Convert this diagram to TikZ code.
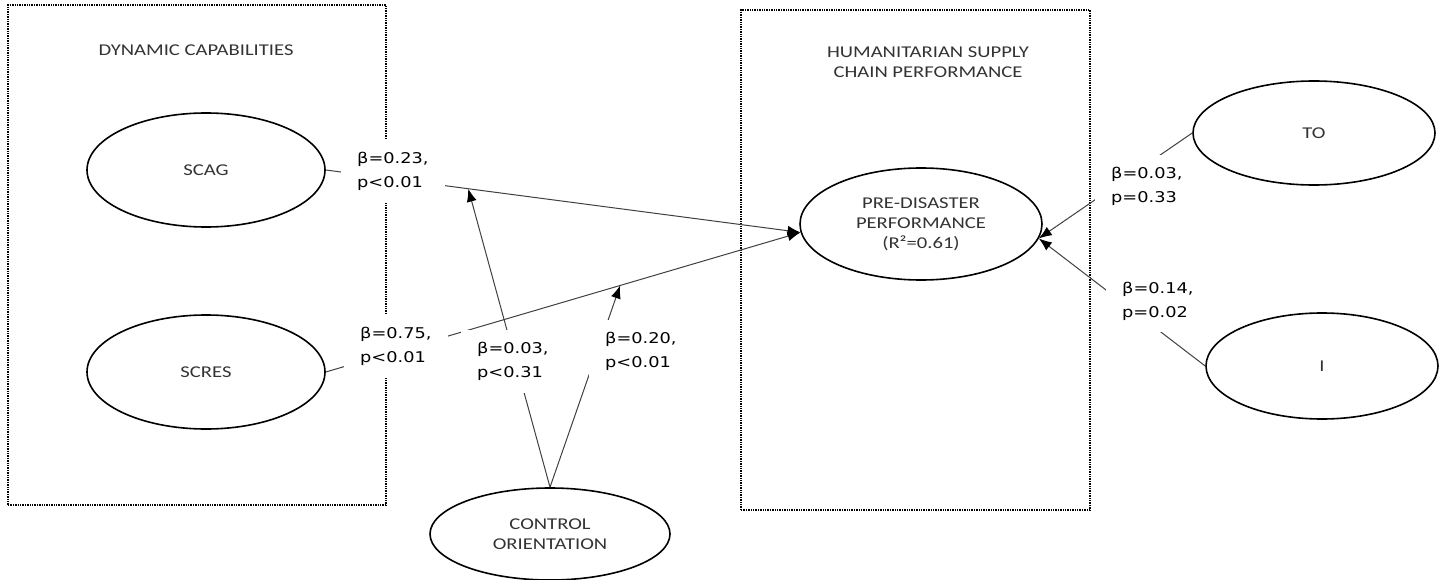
\documentclass[tikz,border=0pt]{standalone}
\usepackage{fontspec}
\usetikzlibrary{arrows.meta,shapes.geometric}
\newfontfamily\labfont[FakeStretch=1.2]{DejaVu Sans}
\newfontfamily\calfont[FakeStretch=1.25]{Carlito}
\begin{document}
\begin{tikzpicture}[x=1pt,y=-1pt,
  grp/.style={draw=black, line width=1.3pt, dash pattern=on 1.4pt off 1pt, inner sep=0pt},
  construct/.style={ellipse, draw=black, line width=1.6pt, inner sep=0pt, align=center,
    font=\calfont\fontsize{16.5}{20}\selectfont, text=black!80},
  coef/.style={fill=white, align=left, inner xsep=16pt, inner ysep=12pt,
    font=\labfont\fontsize{14.8}{24}\selectfont, anchor=west},
  pathline/.style={draw=black!75, line width=1pt},
  patharrow/.style={pathline, -{Latex[length=13pt,width=10pt,color=black]}},
  title/.style={align=center, font=\calfont\fontsize{16.5}{20}\selectfont, text=black!80}]
\useasboundingbox (0,0) rectangle (1447,580);

% group boxes
\node[grp, minimum width=378pt, minimum height=500pt] (dcbox) at (197,255) {};
\node[grp, minimum width=349pt, minimum height=500pt] (hsbox) at (915.5,260) {};
\node[title] (dct) at (196,50) {DYNAMIC CAPABILITIES};
\node[title] (hst) at (928,62) {HUMANITARIAN SUPPLY\\CHAIN PERFORMANCE};

% constructs
\node[construct, minimum width=238pt, minimum height=114pt] (scag) at (206,170) {SCAG};
\node[construct, minimum width=238pt, minimum height=114pt] (scres) at (206,372) {SCRES};
\node[construct, minimum width=242pt, minimum height=112pt] (pre) at (921,224) {PRE-DISASTER\\PERFORMANCE\\(R²=0.61)};
\node[construct, minimum width=242pt, minimum height=104pt] (to) at (1314,133) {TO};
\node[construct, minimum width=232pt, minimum height=106pt] (i) at (1322,366) {I};
\node[construct, minimum width=240pt, minimum height=92pt] (co) at (550,534) {CONTROL\\ORIENTATION};

% connectors
\draw[patharrow] (scag.east) -- (pre.184) coordinate[pos=0.30] (m1);
\draw[patharrow] (scres.east) -- (pre.184) coordinate[pos=0.62] (m2);
\draw[patharrow] (co.north) -- (m1);
\draw[patharrow] (co.north) -- (m2);
\draw[patharrow] (to.west) -- (pre.353);
\draw[patharrow] (i.west) -- (pre.353);

% coefficient labels
\node[coef] (l1) at (341,171.6) {β=0.23,\\p<0.01};
\node[coef] (l2) at (344,346.6) {β=0.75,\\p<0.01};
\node[coef] (l3) at (461,361.6) {β=0.03,\\p<0.31};
\node[coef] (l4) at (589,351.6) {β=0.20,\\p<0.01};
\node[coef] (l5) at (1095,186) {β=0.03,\\p=0.33};
\node[coef] (l6) at (1106,301) {β=0.14,\\p=0.02};
\end{tikzpicture}
\end{document}
